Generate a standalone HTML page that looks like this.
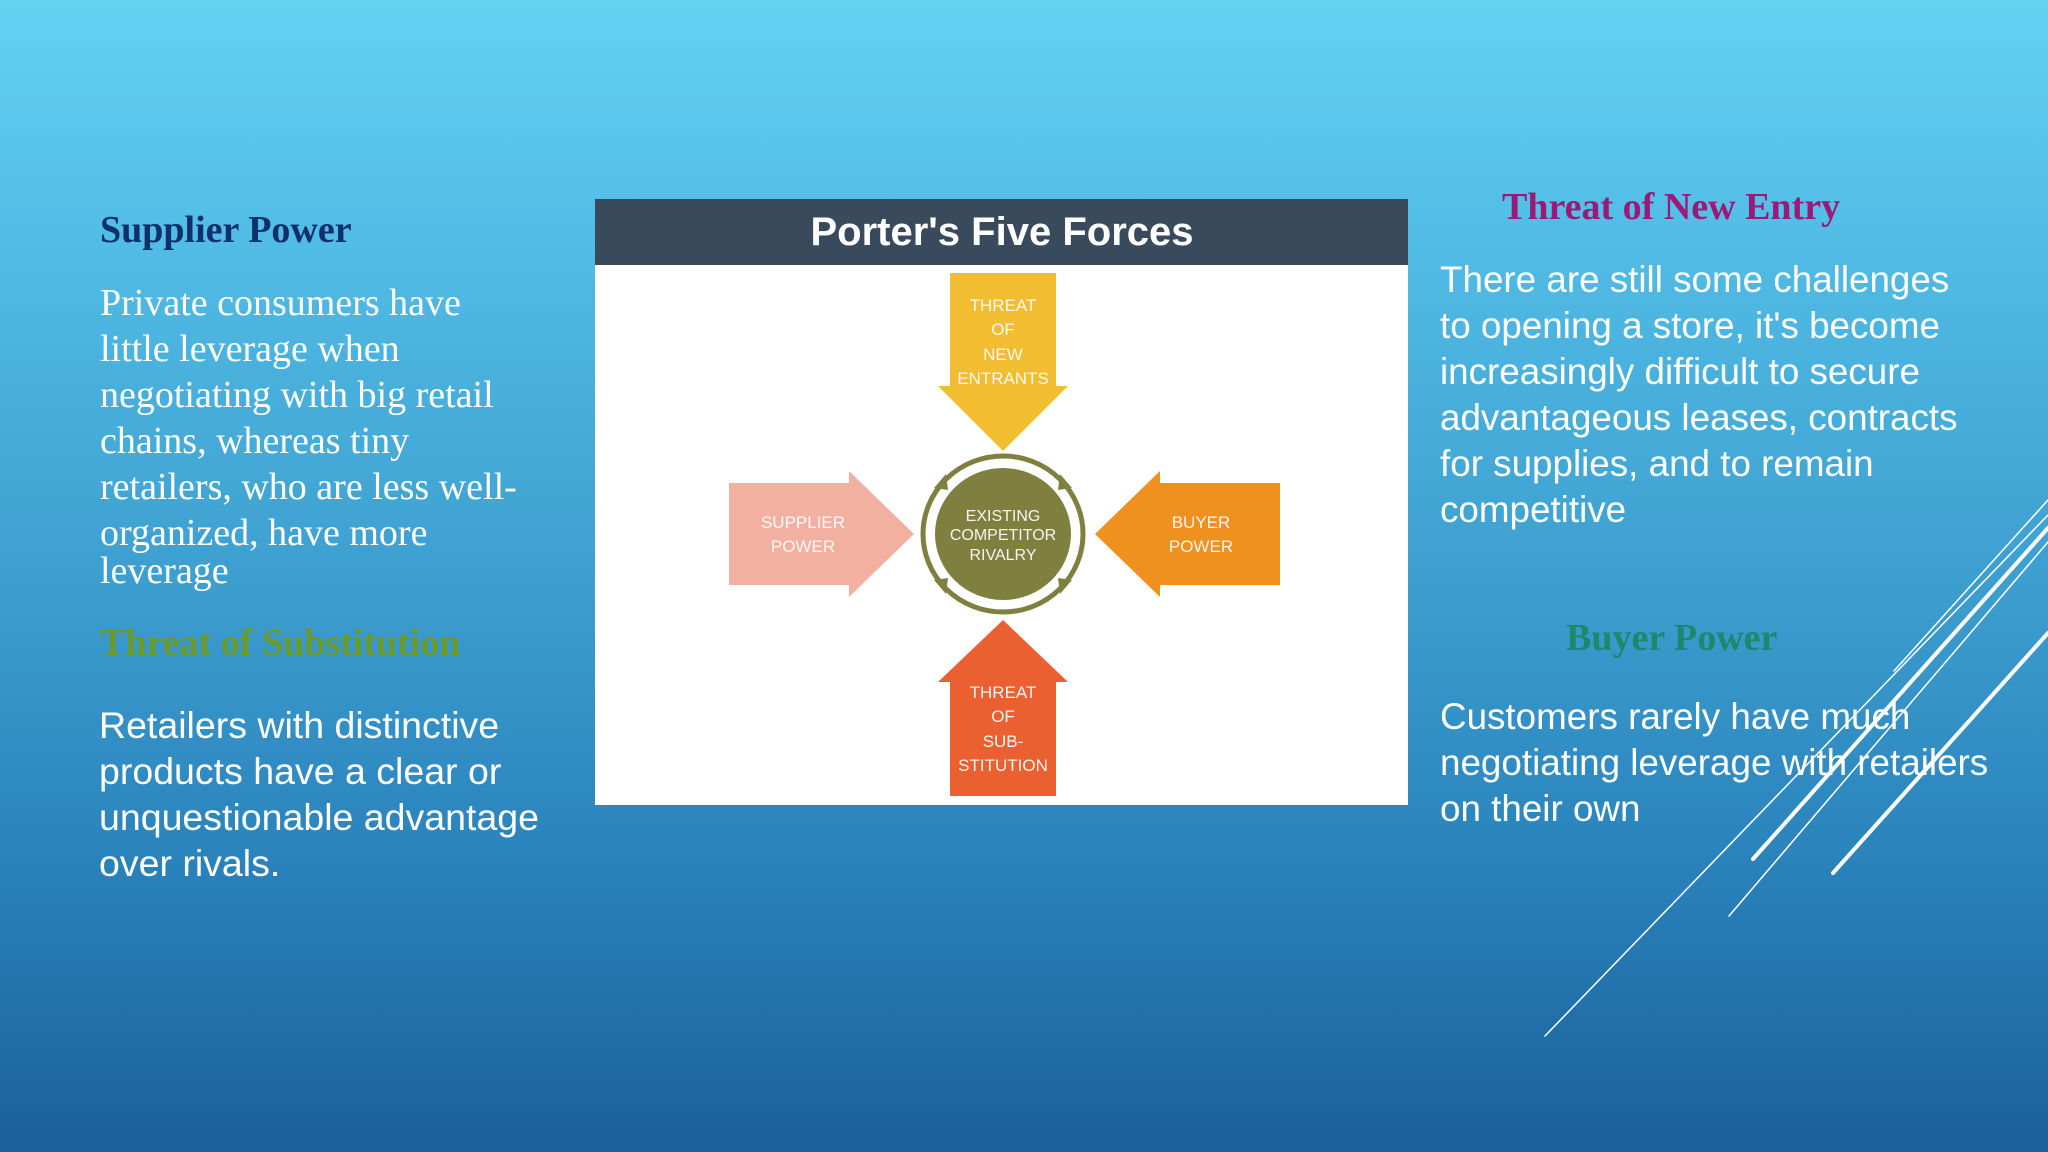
<!DOCTYPE html>
<html><head><meta charset="utf-8"><style>
html,body{margin:0;padding:0}
body{width:2048px;height:1152px;overflow:hidden;position:relative;
background:linear-gradient(180deg,#63d2f1 0%,#52bde6 20%,#3d9fd0 50%,#2a82bb 75%,#1a609b 100%);}
.t{position:absolute;white-space:nowrap;margin:0}
.serif{font-family:"Liberation Serif",serif}
.sans{font-family:"Liberation Sans",sans-serif}
</style></head><body>
<svg width="2048" height="1152" style="position:absolute;left:0;top:0">
<g stroke="#fff" stroke-linecap="round">
<line x1="1894" y1="671" x2="2048" y2="500" stroke-width="1.5"/>
<line x1="1753" y1="859" x2="2048" y2="528" stroke-width="4"/>
<line x1="1729" y1="916" x2="2048" y2="542" stroke-width="1.5"/>
<line x1="1833" y1="873" x2="2048" y2="633" stroke-width="4"/>
<line x1="1545" y1="1036" x2="2048" y2="515" stroke-width="1.5"/>
</g>
<rect x="595" y="199" width="813" height="606" fill="#fff"/>
<rect x="595" y="199" width="813" height="66" fill="#394a5c"/>
<text x="1002" y="245" text-anchor="middle" font-family="Liberation Sans,sans-serif" font-weight="bold" font-size="40" fill="#fff">Porter's Five Forces</text>
<polygon points="950,273 1056,273 1056,386 1068,386 1003,451 938,386 950,386" fill="#f2bd30"/>
<polygon points="729,483 849,483 849,471 914,534 849,597 849,585 729,585" fill="#f2b0a0"/>
<polygon points="1280,483 1160,483 1160,471 1095,534 1160,597 1160,585 1280,585" fill="#f0901e"/>
<polygon points="950,796 1056,796 1056,682 1068,682 1003,620 938,682 950,682" fill="#eb6030"/>
<ellipse cx="1003" cy="534" rx="80" ry="78" fill="none" stroke="#7f8040" stroke-width="5"/>
<ellipse cx="1003" cy="534" rx="72" ry="70" fill="#fff"/>
<ellipse cx="1003" cy="534" rx="68" ry="66" fill="#7f8040"/>
<g fill="#7f8040">
<polygon points="1060,474 1072,488 1058,490"/>
<polygon points="946,594 934,580 948,578"/>
<polygon points="934,488 946,474 948,490"/>
<polygon points="1072,580 1060,594 1058,578"/>
</g>
<g font-family="Liberation Sans,sans-serif" font-size="17" fill="#fff" text-anchor="middle" opacity="0.92">
<text x="1003" y="311">THREAT</text><text x="1003" y="335">OF</text><text x="1003" y="360">NEW</text><text x="1003" y="384">ENTRANTS</text>
<text x="1003" y="521" font-size="16">EXISTING</text><text x="1003" y="540" font-size="16">COMPETITOR</text><text x="1003" y="560" font-size="16">RIVALRY</text>
<text x="803" y="528">SUPPLIER</text><text x="803" y="552">POWER</text>
<text x="1201" y="528">BUYER</text><text x="1201" y="552">POWER</text>
<text x="1003" y="698">THREAT</text><text x="1003" y="722">OF</text><text x="1003" y="747">SUB-</text><text x="1003" y="771">STITUTION</text>
</g>
</svg>

<div class="t serif" style="left:100px;top:207px;font-size:38px;font-weight:bold;color:#10306a;line-height:46px">Supplier Power</div>
<div class="t serif" style="left:100px;top:280px;font-size:38px;color:#fff;line-height:46px">Private consumers have<br>little leverage when<br>negotiating with big retail<br>chains, whereas tiny<br>retailers, who are less well-<br>organized, have more</div>
<div class="t serif" style="left:100px;top:551px;font-size:38px;color:#fff;line-height:40px">leverage</div>
<div class="t serif" style="left:100px;top:620px;font-size:38px;font-weight:bold;color:#6a9a2a;line-height:46px">Threat of Substitution</div>
<div class="t sans" style="left:99px;top:702px;font-size:37.5px;color:#fff;line-height:46px">Retailers with distinctive<br>products have a clear or<br>unquestionable advantage<br>over rivals.</div>

<div class="t serif" style="left:1502px;top:184px;font-size:38px;font-weight:bold;color:#9b1a78;line-height:46px">Threat of New Entry</div>
<div class="t sans" style="left:1440px;top:257px;font-size:36.8px;color:#fff;line-height:46px">There are still some challenges<br>to opening a store, it's become<br>increasingly difficult to secure<br>advantageous leases, contracts<br>for supplies, and to remain<br>competitive</div>
<div class="t serif" style="left:1566px;top:615px;font-size:38px;font-weight:bold;color:#1a8a6a;line-height:46px">Buyer Power</div>
<div class="t sans" style="left:1440px;top:694px;font-size:36.8px;color:#fff;line-height:46px">Customers rarely have much<br>negotiating leverage with retailers<br>on their own</div>
</body></html>
